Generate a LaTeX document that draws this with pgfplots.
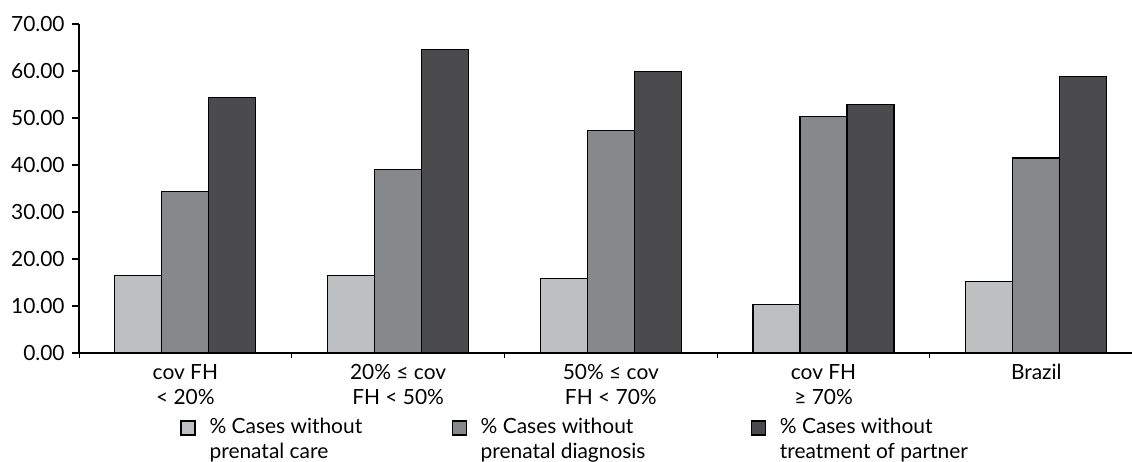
\documentclass[border=0pt]{standalone}
\usepackage{pgfplots}
\pgfplotsset{compat=1.18}
\usepackage{fontspec}
\setmainfont{Lato}

\definecolor{barlight}{RGB}{190,191,193}
\definecolor{barmid}{RGB}{135,136,138}
\definecolor{bardark}{RGB}{75,75,77}

% legend text block of fixed width, so the three keys sit where the reference has them
\newcommand{\legtext}[3]{\parbox[c]{#1}{\fontsize{10.5}{12.5}\selectfont #2\\#3}}

\begin{document}
\fontsize{10.5}{12.5}\selectfont
\begin{tikzpicture}
\begin{axis}[
    scale only axis,
    width=526.5bp, height=164.5bp,
    ybar,
    bar width=0.221,
    xmin=-0.5, xmax=4.45,
    ymin=0, ymax=70,
    axis x line=bottom, axis y line=left,
    axis line style={-, line width=0.6bp},
    xtick={0,1,2,3,4},
    xticklabels={{cov FH\\< 20\%},{20\% ≤ cov\\FH < 50\%},{50\% ≤ cov\\FH < 70\%},{cov FH\\≥ 70\%},{Brazil}},
    xticklabel style={align=center, font=\fontsize{10.5}{12.5}\selectfont, yshift=1.5bp},
    major x tick style={draw=none},
    minor xtick={-0.5,0.5,1.5,2.5,3.5},
    minor x tick style={black, line width=0.5bp},
    minor tick length=2.5bp,
    ytick={0,10,...,70},
    major tick length=3.5bp,
    tick align=outside,
    y tick style={black, line width=0.6bp},
    yticklabel style={/pgf/number format/.cd, fixed, fixed zerofill, precision=2, assume math mode=true},
    every axis plot/.append style={draw=black, line width=0.6bp},
    legend columns=3,
    legend style={at={(0.0959,-0.184)}, anchor=north west, draw=none, fill=none, inner sep=0pt,
        /tikz/every odd column/.append style={column sep=5bp},
        /tikz/every even column/.append style={column sep=0bp}},
    legend image code/.code={\draw[#1, line width=0.6bp] (0bp,-0.9bp) rectangle (7bp,6.1bp);},
]
\addplot[fill=barlight, bar shift=-0.221] coordinates {(0,16.5) (1,16.5) (2,15.9) (3,10.4) (4,15.2)};
\addplot[fill=barmid, bar shift=0] coordinates {(0,34.3) (1,39.1) (2,47.4) (3,50.3) (4,41.5)};
\addplot[fill=bardark, bar shift=0.221] coordinates {(0,54.4) (1,64.6) (2,59.9) (3,52.9) (4,58.9)};
\legend{{\legtext{119bp}{\% Cases without}{prenatal care}},
        {\legtext{133bp}{\% Cases without}{prenatal diagnosis}},
        {\legtext{100bp}{\% Cases without}{treatment of partner}}}
\end{axis}
\pgfresetboundingbox
\path[use as bounding box] (-39.5bp,-54.5bp) rectangle (526.5bp,176.5bp);
\end{tikzpicture}
\end{document}
